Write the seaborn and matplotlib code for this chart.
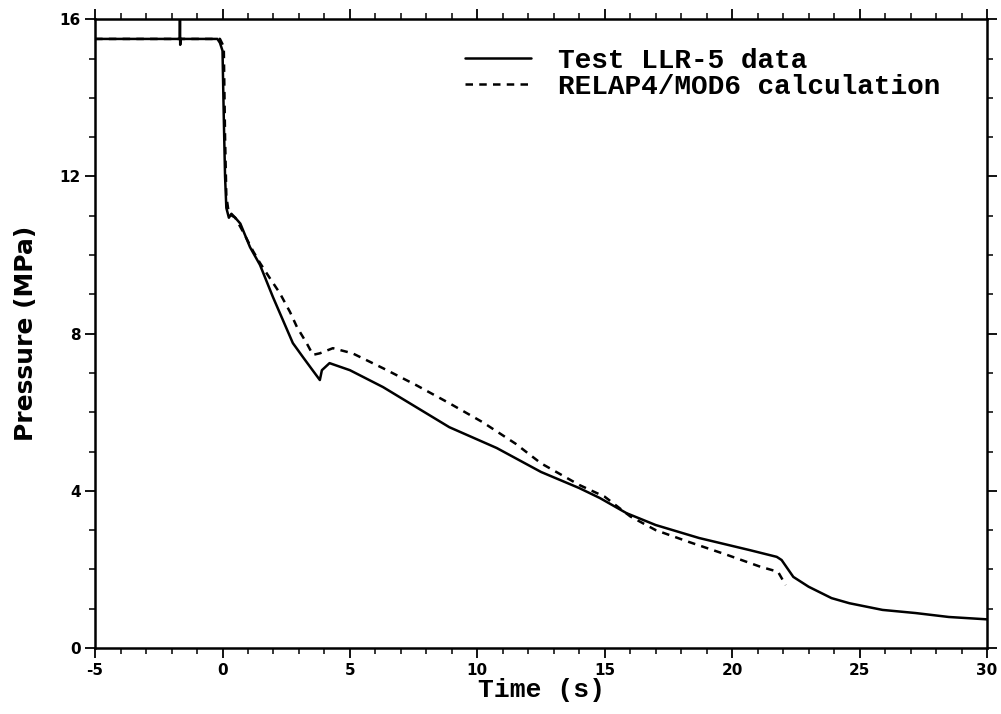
import seaborn as sns
import numpy as np
import pandas as pd
import matplotlib.pyplot as plt

# Test LLR-5 data (solid line)
test_t = [-5, -1.68, -1.67, -1.66, -1.65, -0.2, -0.1, 0.0, 0.05, 0.1, 0.15, 0.25, 0.35, 0.5,
          0.7, 1.08, 1.47, 1.98, 2.4, 2.76, 3.16, 3.5, 3.82, 3.9, 4.2, 5.0, 6.3, 7.6, 8.9,
          10.76, 12.5, 14.0, 14.8, 15.86, 17.0, 18.7, 20.7, 21.75, 21.94, 22.4, 23.0, 23.9,
          24.6, 25.9, 27.2, 28.5, 30]
test_p = [15.5, 15.5, 16.0, 15.35, 15.5, 15.5, 15.4, 15.2, 13.5, 12.0, 11.2, 10.95, 11.05, 10.95,
          10.8, 10.2, 9.75, 8.93, 8.3, 7.76, 7.4, 7.1, 6.82, 7.07, 7.25, 7.07, 6.64, 6.13, 5.62,
          5.09, 4.48, 4.07, 3.82, 3.43, 3.13, 2.8, 2.49, 2.32, 2.24, 1.81, 1.56, 1.27,
          1.14, 0.97, 0.89, 0.79, 0.73]

# RELAP4/MOD6 calculation (dashed line)
calc_t = [-5, -0.1, 0.05, 0.1, 0.15, 0.25, 0.5, 0.8, 1.2, 1.47, 1.86, 2.25, 2.65, 2.92, 3.3,
          3.55, 3.82, 4.33, 5.1, 6.3, 7.6, 8.9, 10.2, 11.5, 12.5, 14.0, 15.0, 16.0, 17.0,
          18.3, 19.8, 21.1, 21.8, 22.1]
calc_p = [15.5, 15.5, 15.3, 13.0, 11.5, 11.05, 10.95, 10.6, 10.1, 9.8, 9.41, 9.03, 8.55, 8.17, 7.76,
          7.46, 7.5, 7.63, 7.5, 7.12, 6.69, 6.23, 5.75, 5.2, 4.7, 4.15, 3.85, 3.35, 3.0,
          2.7, 2.37, 2.07, 1.94, 1.6]

x_ticks = [-5, 0, 5, 10, 15, 20, 25, 30]
y_ticks = [0, 4, 8, 12, 16]

df = pd.concat([
    pd.DataFrame({"t": test_t, "p": test_p, "series": "Test LLR-5 data"}),
    pd.DataFrame({"t": calc_t, "p": calc_p, "series": "RELAP4/MOD6 calculation"}),
], ignore_index=True)

sns.set_style("ticks")
fig = plt.figure(figsize=(10.01, 7.14), dpi=100)
ax = fig.add_axes([0.095, 0.0924, 0.891, 0.8806])

sns.lineplot(data=df, x="t", y="p", hue="series", style="series", sort=False,
             estimator=None, palette=["black", "black"],
             dashes={"Test LLR-5 data": "", "RELAP4/MOD6 calculation": (3, 2.5)},
             linewidth=1.8, ax=ax)

ax.set_xlim(-5, 30)
ax.set_ylim(0, 16)
ax.set_xticks(x_ticks)
ax.set_yticks(y_ticks)
ax.set_xticks(np.arange(-5, 31, 1), minor=True)
ax.set_yticks(np.arange(0, 17, 1), minor=True)
ax.set_xticklabels([str(v) for v in x_ticks], fontweight="bold", fontsize=11)
ax.set_yticklabels([str(v) for v in y_ticks], fontweight="bold", fontsize=11)
ax.tick_params(which="both", direction="out", top=True, right=True, color="black",
               labelcolor="black")
ax.tick_params(which="major", length=7, width=1.3)
ax.tick_params(which="minor", length=4, width=1.1)
for s in ax.spines.values():
    s.set_visible(True)
    s.set_linewidth(1.8)
    s.set_color("black")

ax.set_xlabel("Time (s)", family="Liberation Mono", fontweight="bold", fontsize=19,
              labelpad=0, color="black")
ax.set_ylabel("Pressure (MPa)", fontweight="bold", fontsize=18, labelpad=15, color="black")

leg = ax.legend(loc="upper left", bbox_to_anchor=(0.415, 0.955), frameon=False,
                handlelength=2.35, handletextpad=1.0, labelspacing=0.0, borderpad=0,
                borderaxespad=0,
                prop={"family": "Liberation Mono", "weight": "bold", "size": 20})
for txt in leg.get_texts():
    txt.set_color("black")

fig.savefig("out.png", dpi=100)
